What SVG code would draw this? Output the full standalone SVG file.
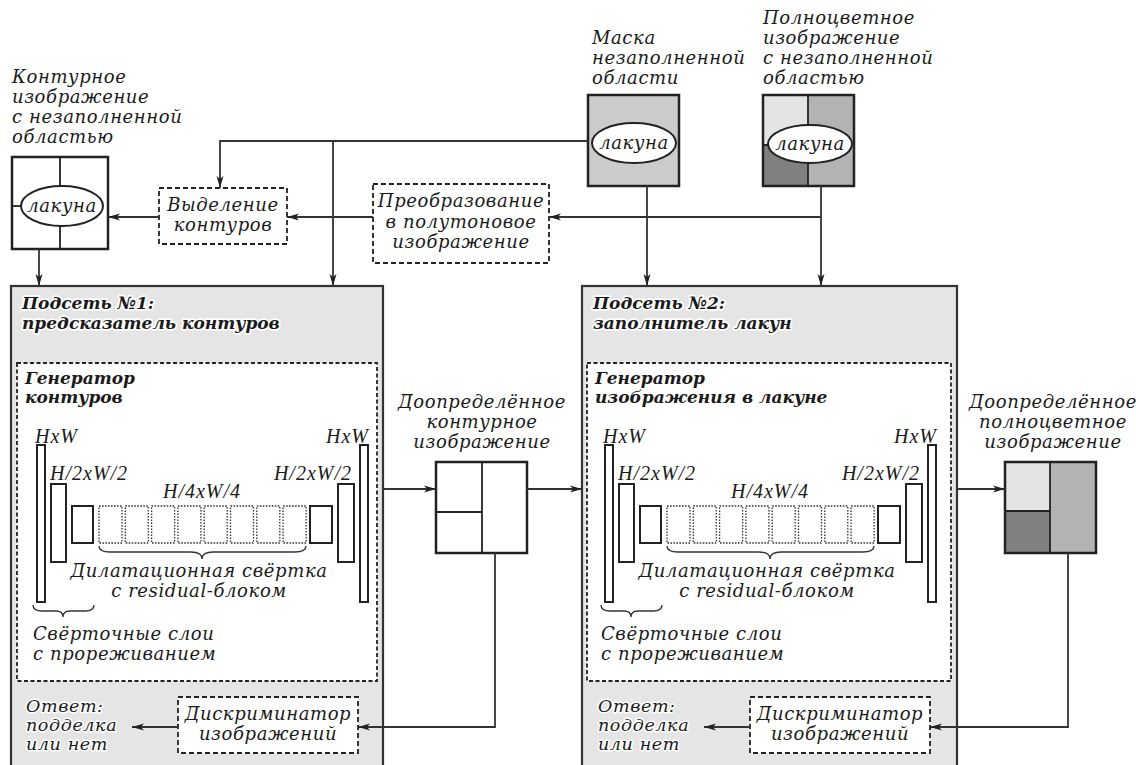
<svg xmlns="http://www.w3.org/2000/svg" width="1136" height="765" viewBox="0 0 1136 765">
<style>
.t{font-family:"DejaVu Serif","Liberation Serif",serif;font-style:italic;font-size:18px;letter-spacing:0.6px;fill:#1a1a1a}
.l{font-family:"Liberation Serif","Times New Roman",serif;font-size:20px;letter-spacing:1px}
.m{text-anchor:middle}
.e{text-anchor:end}
.b{font-weight:bold;font-size:17px;letter-spacing:0;stroke:#fff;stroke-width:3.5px;stroke-linejoin:round;paint-order:stroke}
.w{stroke:#fff;stroke-width:3px;stroke-linejoin:round;paint-order:stroke;font-size:17.5px}
.box{fill:#fff;stroke:#222;stroke-width:2.5}
.dash{fill:#fff;stroke:#222;stroke-width:1.8;stroke-dasharray:5 3}
.gen{fill:#fff;stroke:#222;stroke-width:1.8;stroke-dasharray:4 2.5}
.sub{fill:#e5e5e5;stroke:#333;stroke-width:2.2}
.lay{fill:#fff;stroke:#222;stroke-width:2}
.dot{fill:#fff;stroke:#333;stroke-width:1.3;stroke-dasharray:1.6 1.4}
.br{fill:none;stroke:#333;stroke-width:1.3}
.ln{fill:none;stroke:#222;stroke-width:1.8}
.con{fill:none;stroke:#333;stroke-width:1.8;marker-end:url(#ah)}
.el{fill:#fff;stroke:#222;stroke-width:2}
</style>
<defs>
<marker id="ah" markerUnits="userSpaceOnUse" markerWidth="12" markerHeight="8" refX="12" refY="4" orient="auto">
<path d="M0,0.5 L12,4 L0,7.5 L3,4 z" fill="#222"/>
</marker>
</defs>

<g id="subnet1">
<rect class="sub" x="11" y="286" width="372" height="500"/>
<text class="t b" x="22" y="309">Подсеть №1:</text>
<text class="t b" x="22" y="329">предсказатель контуров</text>
</g>
<g id="subnet2">
<rect class="sub" x="582" y="286" width="375" height="500"/>
<text class="t b" x="593" y="309">Подсеть №2:</text>
<text class="t b" x="593" y="329">заполнитель лакун</text>
</g>

<g id="generator1">
<rect class="gen" x="17" y="363" width="360" height="318"/>
<text class="t b" x="25" y="384">Генератор</text>
<text class="t b" x="25" y="403">контуров</text>
<rect class="lay" x="37" y="445" width="8" height="157"/>
<rect class="lay" x="51" y="484" width="15" height="78"/>
<rect class="lay" x="72" y="506" width="21" height="37"/>
<rect class="dot" x="99" y="506" width="23" height="37"/>
<rect class="dot" x="125.3" y="506" width="23" height="37"/>
<rect class="dot" x="151.6" y="506" width="23" height="37"/>
<rect class="dot" x="177.9" y="506" width="23" height="37"/>
<rect class="dot" x="204.2" y="506" width="23" height="37"/>
<rect class="dot" x="230.5" y="506" width="23" height="37"/>
<rect class="dot" x="256.8" y="506" width="23" height="37"/>
<rect class="dot" x="283.1" y="506" width="23" height="37"/>
<rect class="lay" x="310" y="506" width="22" height="37"/>
<rect class="lay" x="338" y="484" width="16" height="78"/>
<rect class="lay" x="360" y="445" width="8" height="157"/>
<text class="t l" x="35" y="443">HxW</text>
<text class="t l" x="50" y="480">H/2xW/2</text>
<text class="t l e" x="369" y="443">HxW</text>
<text class="t l e" x="352" y="480">H/2xW/2</text>
<text class="t l m" x="202" y="498">H/4xW/4</text>
<path class="br" d="M99,546 Q99,552 110,552 L191,552 Q202,552 202,559 Q202,552 213,552 L295,552 Q306,552 306,546"/>
<text class="t m" x="199" y="577">Дилатационная свёртка</text>
<text class="t m" x="199" y="597">с residual-блоком</text>
<path class="br" d="M33,605 Q33,611 42,611 L56,611 Q63,611 63,617 Q63,611 70,611 L85,611 Q94,611 94,605"/>
<text class="t" x="33" y="640">Свёрточные слои</text>
<text class="t" x="33" y="660">с прореживанием</text>
</g>

<g id="generator2">
<rect class="gen" x="587" y="363" width="364" height="318"/>
<text class="t b" x="595" y="384">Генератор</text>
<text class="t b" x="595" y="403">изображения в лакуне</text>
<rect class="lay" x="605" y="445" width="8" height="157"/>
<rect class="lay" x="619" y="484" width="15" height="78"/>
<rect class="lay" x="640" y="506" width="21" height="37"/>
<rect class="dot" x="667" y="506" width="23" height="37"/>
<rect class="dot" x="693.3" y="506" width="23" height="37"/>
<rect class="dot" x="719.6" y="506" width="23" height="37"/>
<rect class="dot" x="745.9" y="506" width="23" height="37"/>
<rect class="dot" x="772.2" y="506" width="23" height="37"/>
<rect class="dot" x="798.5" y="506" width="23" height="37"/>
<rect class="dot" x="824.8" y="506" width="23" height="37"/>
<rect class="dot" x="851.1" y="506" width="23" height="37"/>
<rect class="lay" x="878" y="506" width="22" height="37"/>
<rect class="lay" x="906" y="484" width="16" height="78"/>
<rect class="lay" x="928" y="445" width="8" height="157"/>
<text class="t l" x="603" y="443">HxW</text>
<text class="t l" x="618" y="480">H/2xW/2</text>
<text class="t l e" x="937" y="443">HxW</text>
<text class="t l e" x="920" y="480">H/2xW/2</text>
<text class="t l m" x="770" y="498">H/4xW/4</text>
<path class="br" d="M667,546 Q667,552 678,552 L759,552 Q770,552 770,559 Q770,552 781,552 L863,552 Q874,552 874,546"/>
<text class="t m" x="767" y="577">Дилатационная свёртка</text>
<text class="t m" x="767" y="597">с residual-блоком</text>
<path class="br" d="M601,605 Q601,611 610,611 L624,611 Q631,611 631,617 Q631,611 638,611 L653,611 Q662,611 662,605"/>
<text class="t" x="601" y="640">Свёрточные слои</text>
<text class="t" x="601" y="660">с прореживанием</text>
</g>

<g id="contour-input">
<text class="t" x="12" y="83">Контурное</text>
<text class="t" x="12" y="103">изображение</text>
<text class="t" x="12" y="123">с незаполненной</text>
<text class="t" x="12" y="143">областью</text>
<rect class="box" x="12" y="157" width="96" height="92"/>
<line class="ln" x1="60" y1="157" x2="60" y2="249"/>
<line class="ln" x1="12" y1="206" x2="30" y2="206"/>
<ellipse class="el" cx="62" cy="206" rx="41" ry="20"/>
<text class="t m" x="62" y="212">лакуна</text>
</g>

<g id="mask">
<text class="t" x="592" y="44">Маска</text>
<text class="t" x="592" y="64">незаполненной</text>
<text class="t" x="592" y="84">области</text>
<rect class="box" x="588" y="95" width="91" height="91" style="fill:#cbcbcb"/>
<ellipse class="el" cx="634" cy="143" rx="42" ry="20"/>
<text class="t m" x="634" y="149">лакуна</text>
</g>

<g id="color-input">
<text class="t" x="763" y="24">Полноцветное</text>
<text class="t" x="763" y="44">изображение</text>
<text class="t" x="763" y="64">с незаполненной</text>
<text class="t" x="763" y="84">областью</text>
<rect x="763" y="95" width="45" height="50" fill="#e4e4e4"/>
<rect x="808" y="95" width="46" height="91" fill="#b3b3b3"/>
<rect x="763" y="145" width="45" height="41" fill="#808080"/>
<line class="ln" x1="808" y1="95" x2="808" y2="186"/>
<line class="ln" x1="763" y1="145" x2="808" y2="145"/>
<rect class="box" x="763" y="95" width="91" height="91" style="fill:none"/>
<ellipse class="el" cx="810" cy="144" rx="42" ry="19"/>
<text class="t m" x="810" y="150">лакуна</text>
</g>

<g id="edge-extraction">
<rect class="dash" x="159" y="188" width="128" height="56"/>
<text class="t m" x="223" y="211">Выделение</text>
<text class="t m" x="223" y="231">контуров</text>
</g>

<g id="grayscale">
<rect class="dash" x="373" y="184" width="176" height="79"/>
<text class="t m" x="461" y="207">Преобразование</text>
<text class="t m" x="461" y="228">в полутоновое</text>
<text class="t m" x="461" y="248">изображение</text>
</g>

<g id="contour-output">
<text class="t m" x="482" y="408">Доопределённое</text>
<text class="t m" x="482" y="428">контурное</text>
<text class="t m" x="482" y="448">изображение</text>
<rect class="box" x="436" y="462" width="91" height="91"/>
<line class="ln" x1="482" y1="462" x2="482" y2="553"/>
<line class="ln" x1="436" y1="512" x2="482" y2="512"/>
</g>

<g id="color-output">
<text class="t m" x="1053" y="408">Доопределённое</text>
<text class="t m" x="1053" y="428">полноцветное</text>
<text class="t m" x="1053" y="448">изображение</text>
<rect x="1005" y="462" width="45" height="49" fill="#e4e4e4"/>
<rect x="1005" y="511" width="45" height="42" fill="#808080"/>
<rect x="1050" y="462" width="46" height="91" fill="#b3b3b3"/>
<line class="ln" x1="1050" y1="462" x2="1050" y2="553"/>
<line class="ln" x1="1005" y1="511" x2="1050" y2="511"/>
<rect class="box" x="1005" y="462" width="91" height="91" style="fill:none"/>
</g>

<g id="discriminator1">
<rect class="dash" x="178" y="697" width="180" height="56"/>
<text class="t m" x="268" y="720">Дискриминатор</text>
<text class="t m" x="268" y="740">изображений</text>
<text class="t w" x="26" y="712">Ответ:</text>
<text class="t w" x="26" y="731">подделка</text>
<text class="t w" x="26" y="750">или нет</text>
</g>

<g id="discriminator2">
<rect class="dash" x="750" y="697" width="180" height="56"/>
<text class="t m" x="840" y="720">Дискриминатор</text>
<text class="t m" x="840" y="740">изображений</text>
<text class="t w" x="598" y="712">Ответ:</text>
<text class="t w" x="598" y="731">подделка</text>
<text class="t w" x="598" y="750">или нет</text>
</g>

<g id="connectors">
<path class="con" d="M588,141 H220 V188"/>
<path class="con" d="M333,141 V286"/>
<path class="con" d="M647,186 V286"/>
<path class="con" d="M821,186 V286"/>
<path class="con" d="M821,217 H549"/>
<path class="con" d="M373,217 H287"/>
<path class="con" d="M159,217 H108"/>
<path class="con" d="M39,249 V286"/>
<path class="con" d="M383,489 H436"/>
<path class="con" d="M527,489 H582"/>
<path class="con" d="M957,489 H1005"/>
<path class="con" d="M495,553 V727 H358"/>
<path class="con" d="M178,727 H132"/>
<path class="con" d="M1068,553 V727 H930"/>
<path class="con" d="M750,727 H704"/>
</g>
</svg>
